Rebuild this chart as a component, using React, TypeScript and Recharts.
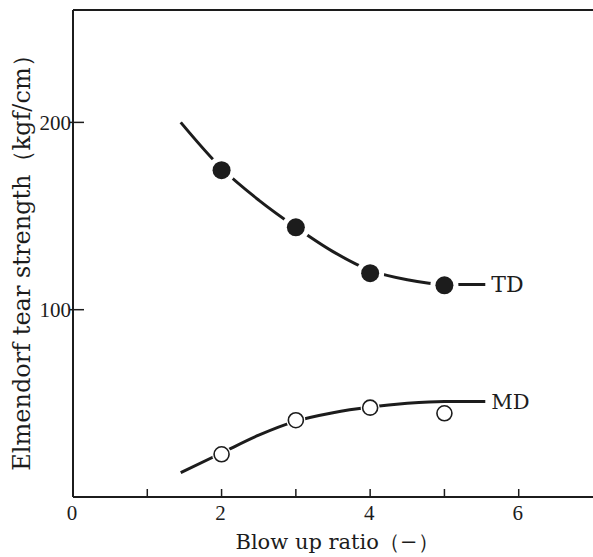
import {
  ComposedChart,
  Line,
  Scatter,
  XAxis,
  YAxis,
  ReferenceLine,
  ReferenceDot,
} from "recharts";

// blow up ratio (x) and Elmendorf tear strength in kgf/cm (y)
const ratioTicks = [0, 1, 2, 3, 4, 5, 6];
const ratioLabels = [0, 2, 4, 6];
const strengthTicks = [100, 200];

const pointRatios = [2, 3, 4, 5];
const tdPoints = [174.5, 144, 119.5, 113];
const mdPoints = [22.8, 41, 47.7, 44.7];

// hand-drawn fitted curves
const curveRatios = [1.45, 2, 2.5, 3, 3.5, 4, 4.5, 5, 5.55];
const tdCurve = [200, 175.5, 158.5, 144, 131, 121, 116, 113.5, 113.5];
const mdCurve = [13, 23.5, 33, 40.5, 45, 48, 50, 51, 51];

const INK = "#1c1c1c";
const SERIF = "'DejaVu Serif', 'Liberation Serif', serif";
const DIGITS = "'Liberation Serif', 'DejaVu Serif', serif";

const toRows = (xs: number[], ys: number[]) => xs.map((x, i) => ({ x, y: ys[i] }));

const tdLine = toRows(curveRatios, tdCurve);
const mdLine = toRows(curveRatios, mdCurve);
const tdDots = toRows(pointRatios, tdPoints);
const mdDots = toRows(pointRatios, mdPoints);

const RatioTick = (props: any) => {
  const { x, y, payload } = props;
  const v = payload.value;
  return (
    <g>
      {v !== 0 && <line x1={x} x2={x} y1={y - 8} y2={y} stroke={INK} strokeWidth={1.5} />}
      {ratioLabels.includes(v) && (
        <text x={x - 1} y={y + 23} textAnchor="middle" fill={INK} fontSize={21} fontFamily={DIGITS}>
          {v}
        </text>
      )}
    </g>
  );
};

const StrengthTick = (props: any) => {
  const { x, y, payload } = props;
  return (
    <g>
      <line x1={x - 3} x2={x + 11} y1={y} y2={y} stroke={INK} strokeWidth={1.5} />
      <text x={x - 2} y={y + 7.5} textAnchor="end" fill={INK} fontSize={21} fontFamily={DIGITS}>
        {payload.value}
      </text>
    </g>
  );
};

const FilledDot = (props: any) => {
  const { cx, cy } = props;
  return (
    <g>
      <circle cx={cx} cy={cy} r={14} fill="#fff" />
      <circle cx={cx} cy={cy} r={9} fill={INK} />
    </g>
  );
};

const OpenDot = (props: any) => {
  const { cx, cy } = props;
  return (
    <g>
      <circle cx={cx} cy={cy} r={9.5} fill="#fff" />
      <circle cx={cx} cy={cy} r={7.5} fill="#fff" stroke={INK} strokeWidth={1.6} />
    </g>
  );
};

const YTitle = () => (
  <text
    x={30}
    y={257}
    transform="rotate(-90, 30, 257)"
    textAnchor="middle"
    fill={INK}
    fontSize={24}
    fontFamily={SERIF}
  >
    Elmendorf tear strength（kgf/cm）
  </text>
);

export default function App() {
  return (
    <div style={{ position: "absolute", left: 0, top: 0, width: 593, height: 557, background: "#fff" }}>
      <ComposedChart width={593} height={557} margin={{ top: 10, right: 0, bottom: 0, left: 0 }}>
        <XAxis
          type="number"
          dataKey="x"
          domain={[0, 7]}
          ticks={ratioTicks}
          interval={0}
          tickSize={0}
          tickMargin={0}
          tick={<RatioTick />}
          height={60}
          allowDataOverflow
          axisLine={{ stroke: INK, strokeWidth: 2 }}
          label={{
            value: "Blow up ratio（−）",
            position: "insideBottom",
            offset: 8,
            dx: 4,
            fill: INK,
            fontSize: 21,
            fontFamily: SERIF,
          }}
        />
        <YAxis
          type="number"
          dataKey="y"
          domain={[0, 260]}
          ticks={strengthTicks}
          interval={0}
          tickSize={0}
          tickMargin={0}
          tick={<StrengthTick />}
          width={73}
          allowDataOverflow
          axisLine={{ stroke: INK, strokeWidth: 2 }}
          label={{ content: YTitle }}
        />
        <ReferenceLine y={260} stroke={INK} strokeWidth={2} />

        <Line
          data={tdLine}
          dataKey="y"
          type="monotone"
          stroke={INK}
          strokeWidth={3}
          dot={false}
          activeDot={false}
          isAnimationActive={false}
        />
        <Line
          data={mdLine}
          dataKey="y"
          type="monotone"
          stroke={INK}
          strokeWidth={3}
          dot={false}
          activeDot={false}
          isAnimationActive={false}
        />
        <Scatter data={tdDots} dataKey="y" shape={<FilledDot />} isAnimationActive={false} />
        <Scatter data={mdDots} dataKey="y" shape={<OpenDot />} isAnimationActive={false} />

        <ReferenceDot
          x={curveRatios[curveRatios.length - 1]}
          y={tdCurve[tdCurve.length - 1]}
          r={0}
          stroke="none"
          fill="none"
          label={{ value: "TD", position: "right", offset: 6, fill: INK, fontSize: 22, fontFamily: SERIF }}
        />
        <ReferenceDot
          x={curveRatios[curveRatios.length - 1]}
          y={mdCurve[mdCurve.length - 1]}
          r={0}
          stroke="none"
          fill="none"
          label={{ value: "MD", position: "right", offset: 6, fill: INK, fontSize: 21, fontFamily: SERIF }}
        />
      </ComposedChart>
    </div>
  );
}
